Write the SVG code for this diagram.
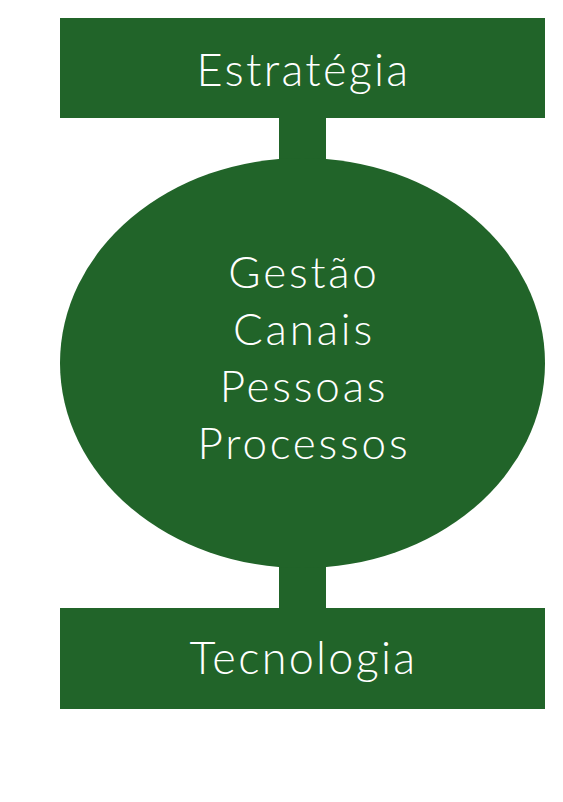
<svg xmlns="http://www.w3.org/2000/svg" width="563" height="802" viewBox="0 0 563 802">
<style>
.s{fill:#216429}
.t{font-family:Lato,"Liberation Sans",sans-serif;font-weight:300;fill:#fff;text-anchor:middle}
.h{font-size:45px;letter-spacing:2.3px}
.m{font-size:44px;letter-spacing:2.8px}
</style>
<rect width="563" height="802" fill="#fff"/>
<g id="connectors">
<rect class="s" x="279" y="110" width="47" height="60"/>
<rect class="s" x="279" y="555" width="47" height="60"/>
</g>
<g id="estrategia">
<rect class="s" x="60" y="18" width="485" height="100"/>
<text class="t h" x="303.5" y="86">Estratégia</text>
</g>
<g id="centro">
<ellipse class="s" cx="302.5" cy="363" rx="242.5" ry="205"/>
<text class="t m"><tspan x="304" y="288">Gestão</tspan><tspan x="304" y="345">Canais</tspan><tspan x="304" y="402">Pessoas</tspan><tspan x="304" y="459">Processos</tspan></text>
</g>
<g id="tecnologia">
<rect class="s" x="60" y="608" width="485" height="101"/>
<text class="t h" x="303.5" y="674">Tecnologia</text>
</g>
</svg>
